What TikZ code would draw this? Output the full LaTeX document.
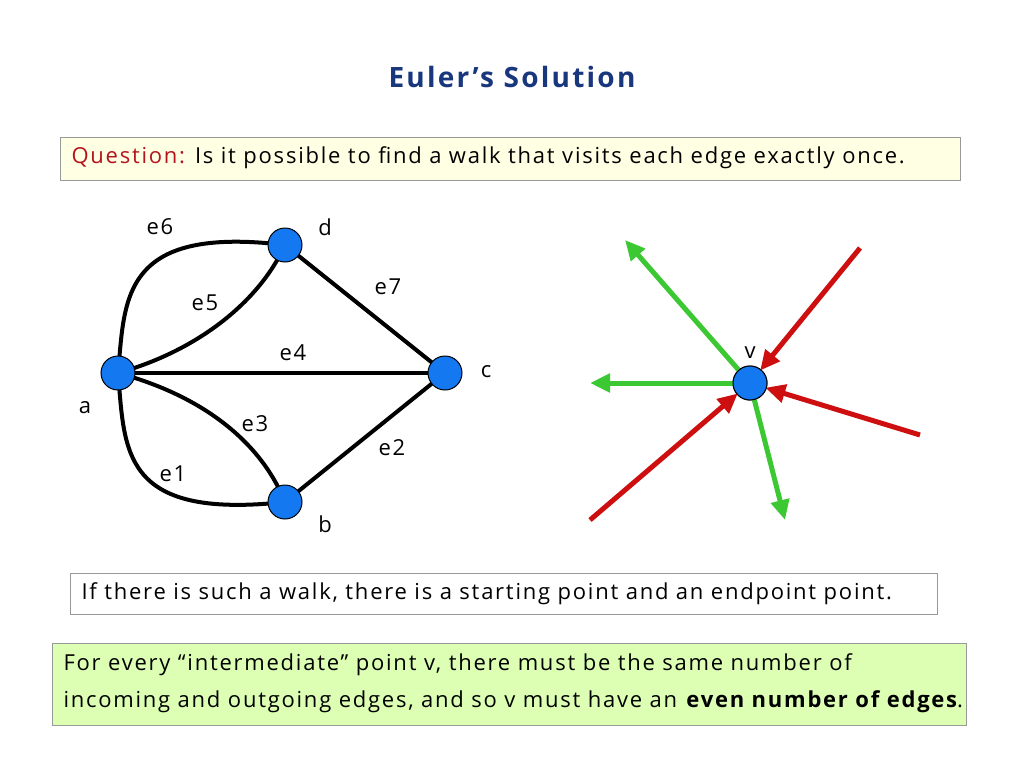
\documentclass[tikz,border=0pt]{standalone}
\usepackage{fontspec}
\setmainfont{Open Sans}[LetterSpace=8]
\usetikzlibrary{arrows.meta}
\definecolor{ttl}{RGB}{25,55,125}
\definecolor{qred}{RGB}{180,20,30}
\definecolor{ylw}{RGB}{255,255,228}
\definecolor{grn}{RGB}{220,255,180}
\definecolor{vblue}{RGB}{20,120,240}
\definecolor{ag}{RGB}{60,200,50}
\definecolor{ar}{RGB}{205,15,15}
\tikzset{
 vert/.style={circle,draw=black,fill=vblue,minimum size=34pt,inner sep=0pt,line width=1pt},
 edge/.style={line width=4pt,black},
 lbl/.style={font=\fontsize{22}{25}\selectfont},
 garr/.style={line width=5pt,ag,-{Triangle[length=20pt,width=18pt]}},
 rarr/.style={line width=5pt,ar,-{Triangle[length=20pt,width=18pt]},shorten >=16pt},
}
\begin{document}
\begin{tikzpicture}[x=1pt,y=-1pt]
\useasboundingbox (0,0) rectangle (1024,768);
\node[font=\fontsize{28}{32}\selectfont\bfseries,text=ttl] (t) at (512,77) {Euler’s Solution};
\draw[draw=black!40,fill=ylw,line width=1pt] (60,137) rectangle (960,180);
\node[lbl,anchor=west] (q) at (68,158) {\textcolor{qred}{Question:} Is it possible to find a walk that visits each edge exactly once.};
\draw[draw=black!40,fill=white,line width=1pt] (70,573) rectangle (937,614);
\node[lbl,anchor=west] (s) at (78,594) {If there is such a walk, there is a starting point and an endpoint point.};
\draw[draw=black!40,fill=grn,line width=1pt] (52,643) rectangle (966,725);
\node[lbl,anchor=west,align=left] (f) at (60,683) {For every “intermediate” point v, there must be the same number of\\[12pt]incoming and outgoing edges, and so v must have an \textbf{even number of edges}.};

\coordinate (A) at (118,373);
\coordinate (D) at (285,245);
\coordinate (C) at (445,373);
\coordinate (B) at (285,502);
\draw[edge] (A) .. controls (125,300) and (120,225) .. (D);
\draw[edge] (A) .. controls (200,350) and (260,300) .. (D);
\draw[edge] (A) -- (C);
\draw[edge] (D) -- (C);
\draw[edge] (B) -- (C);
\draw[edge] (A) .. controls (200,395) and (260,440) .. (B);
\draw[edge] (A) .. controls (125,450) and (120,520) .. (B);
\node[vert] (a) at (A) {};
\node[vert] (d) at (D) {};
\node[vert] (c) at (C) {};
\node[vert] (b) at (B) {};
\foreach \t/\x/\y in {e6/160/227,d/325/227,e7/388/287,e5/205/303,e4/293/353,c/486/372,a/85/408,e3/255/424,e2/392/448,e1/173/474,b/325/524,v/750/353}
  \node[lbl] (l\t) at (\x,\y) {\t};

\node[vert] (v) at (750,383) {};
\coordinate (g1) at (625,240);
\coordinate (g2) at (590,383);
\coordinate (g3) at (785,520);
\coordinate (r1) at (860,248);
\coordinate (r2) at (920,435);
\coordinate (r3) at (590,520);
\draw[garr] (v) -- (g1);
\draw[garr] (v) -- (g2);
\draw[garr] (v) -- (g3);
\draw[rarr] (r1) -- (v.center);
\draw[rarr] (r2) -- (v.center);
\draw[rarr] (r3) -- (v.center);
\node[vert] at (v) {};
\end{tikzpicture}
\end{document}
